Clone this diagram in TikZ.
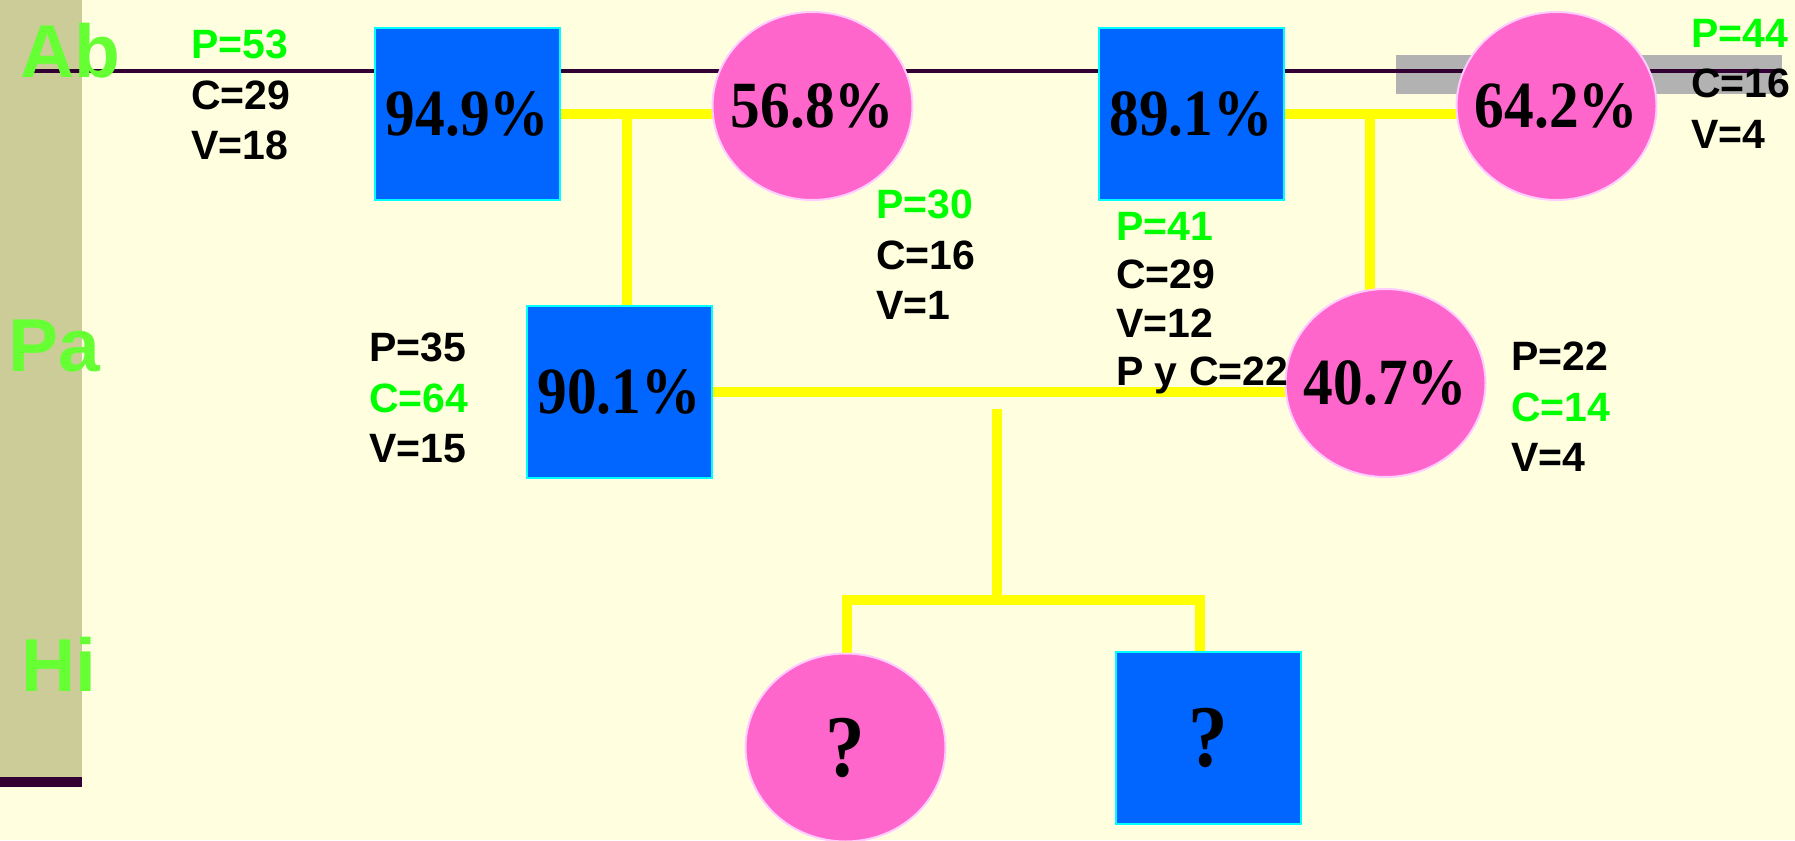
\documentclass[tikz,border=0pt]{standalone}
\usepackage{fontspec}
\setmainfont{Liberation Sans}
\newfontfamily\pctfont[FakeStretch=0.9]{Liberation Serif}
\usetikzlibrary{shapes.geometric}
\pgfdeclarelayer{back}
\pgfdeclarelayer{links}
\pgfsetlayers{back,links,main}
\definecolor{bgyellow}{HTML}{FFFFE0}
\definecolor{bandtan}{HTML}{CCCC99}
\definecolor{darkline}{HTML}{330033}
\definecolor{graybar}{HTML}{B2B2B2}
\definecolor{sqblue}{HTML}{0066FF}
\definecolor{sqedge}{HTML}{00FFFF}
\definecolor{cpink}{HTML}{FF66CC}
\definecolor{cedge}{HTML}{FFCCFF}
\definecolor{gengreen}{HTML}{66FF33}
\definecolor{valgreen}{HTML}{00FF00}
\definecolor{linkyellow}{HTML}{FFFF00}

\begin{document}
\begin{tikzpicture}[x=1pt,y=-1pt,
male/.style={rectangle,draw=sqedge,fill=sqblue,line width=2pt,minimum width=185pt,minimum height=172pt,inner sep=0pt,font=\pctfont\bfseries\fontsize{66}{66}\selectfont},
female/.style={ellipse,draw=cedge,fill=cpink,line width=2pt,minimum width=200pt,minimum height=188pt,inner sep=0pt,font=\pctfont\bfseries\fontsize{66}{66}\selectfont},
unk/.style={font=\pctfont\bfseries\fontsize{88}{88}\selectfont},
link/.style={draw=linkyellow,line width=10pt},
gen/.style={font=\bfseries\fontsize{75}{75}\selectfont,text=gengreen,anchor=base west,inner sep=0pt},
stats/.style={font=\bfseries\fontsize{41}{50.5}\selectfont,align=left,anchor=north west,inner sep=0pt}]
\useasboundingbox (0,0) rectangle (1795,840);
\begin{pgfonlayer}{back}
\fill[bgyellow] (0,0) rectangle (1795,840);
\fill[bandtan] (0,0) rectangle (82,777);
\fill[darkline] (0,777) rectangle (82,786.5);
\fill[graybar] (1396,55) rectangle (1782,94);
\draw[darkline,line width=4.5pt] (34,71) -- (1778,71);
\end{pgfonlayer}
% generations
\node[gen] (gAb) at (20,78) {Ab};
\node[gen] (gPa) at (8,371) {Pa};
\node[gen] (gHi) at (21,691) {Hi};
% individuals
\node[male]   (p949) at (467.5,114) {\raisebox{-2pt}{94.9\%}};
\node[female] (p568) at (812.5,106) {\makebox[0pt]{56.8\%}};
\node[male]   (p891) at (1191,114)  {\raisebox{-2pt}{89.1\%}};
\node[female] (p642) at (1556.5,106) {\makebox[0pt]{64.2\%}};
\node[male]   (p901) at (619,392)   {90.1\%};
\node[female] (p407) at (1385.5,383) {\makebox[0pt]{40.7\%}};
\node[female,unk] (cq) at (845.5,747.5) {\makebox[0pt]{?}};
\node[male,unk]   (sq) at (1208,738) {\raisebox{-3pt}{?}};
% counts
\node[stats] (s949) at (191,30)  {\textcolor{valgreen}{P=53}\\C=29\\V=18};
\node[stats] (s568) at (876,190) {\textcolor{valgreen}{P=30}\\C=16\\V=1};
\node[stats,font=\bfseries\fontsize{41}{48.5}\selectfont] (s891) at (1116,212) {\textcolor{valgreen}{P=41}\\C=29\\V=12\\P y C=22};
\node[stats] (s642) at (1691,19) {\textcolor{valgreen}{P=44}\\C=16\\V=4};
\node[stats] (s901) at (369,333) {P=35\\\textcolor{valgreen}{C=64}\\V=15};
\node[stats] (s407) at (1511,342) {P=22\\\textcolor{valgreen}{C=14}\\V=4};
% links
\coordinate (j1) at (627,114);
\coordinate (j2) at (1370,114);
\coordinate (j3) at (997,409);
\coordinate (j4) at (997,600);
\coordinate (k1) at (847,600);
\coordinate (k2) at (1200,600);
\begin{pgfonlayer}{links}
\draw[link] (p949.east) -- (p949.east -| p568);
\draw[link] (j1) -- (j1 |- p901);
\draw[link] (p891.east) -- (p891.east -| p642);
\draw[link] (j2) -- (j2 |- p407);
\draw[link] (p901.east) -- (p901.east -| p407);
\draw[link] (j3) -- (j4);
\draw[link] (k1 |- cq) -- (k1) -- (k2) -- (k2 |- sq);
\end{pgfonlayer}
\end{tikzpicture}
\end{document}
